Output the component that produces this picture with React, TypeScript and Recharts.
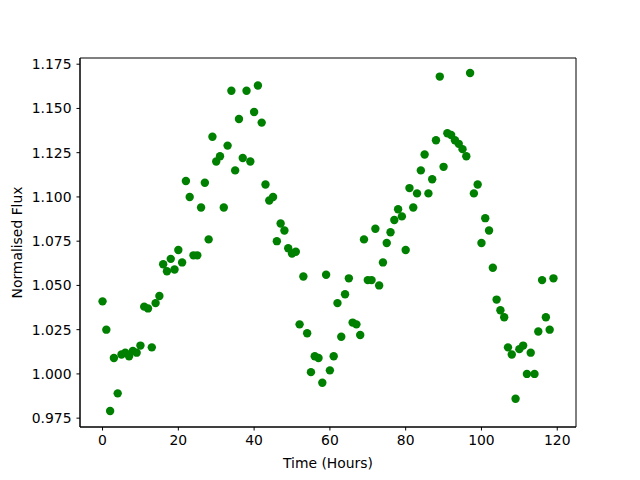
import React from 'react';
import { ScatterChart, Scatter, XAxis, YAxis, ReferenceArea } from 'recharts';

// flux readings, one per hour starting at t = 0
const FLUX = [
  1.041, 1.025, 0.979, 1.009, 0.989, 1.011, 1.012, 1.010, 1.013, 1.012,
  1.016, 1.038, 1.037, 1.015, 1.040, 1.044, 1.062, 1.058, 1.065, 1.059,
  1.070, 1.063, 1.109, 1.100, 1.067, 1.067, 1.094, 1.108, 1.076, 1.134,
  1.120, 1.123, 1.094, 1.129, 1.160, 1.115, 1.144, 1.122, 1.160, 1.120,
  1.148, 1.163, 1.142, 1.107, 1.098, 1.100, 1.075, 1.085, 1.081, 1.071,
  1.068, 1.069, 1.028, 1.055, 1.023, 1.001, 1.010, 1.009, 0.995, 1.056,
  1.002, 1.010, 1.040, 1.021, 1.045, 1.054, 1.029, 1.028, 1.022, 1.076,
  1.053, 1.053, 1.082, 1.050, 1.063, 1.074, 1.080, 1.087, 1.093, 1.089,
  1.070, 1.105, 1.094, 1.102, 1.115, 1.124, 1.102, 1.110, 1.132, 1.168,
  1.117, 1.136, 1.135, 1.132, 1.130, 1.127, 1.123, 1.170, 1.102, 1.107,
  1.074, 1.088, 1.081, 1.060, 1.042, 1.036, 1.032, 1.015, 1.011, 0.986,
  1.014, 1.016, 1.000, 1.012, 1.000, 1.024, 1.053, 1.032, 1.025, 1.054,
];

const X_TICKS = [0, 20, 40, 60, 80, 100, 120];
const Y_TICKS = [0.975, 1.0, 1.025, 1.05, 1.075, 1.1, 1.125, 1.15, 1.175];
const X_DOMAIN: [number, number] = [-5.95, 124.95];
const Y_DOMAIN: [number, number] = [0.9700, 1.1785];

const data = FLUX.map((flux, hour) => ({ hour, flux }));

const font = 'DejaVu Sans';
const tickStyle = { fill: '#000', fontSize: 13.9, fontFamily: font };

const Dot = (props: any) => <circle cx={props.cx} cy={props.cy} r={4.2} fill="#008000" />;

const XLabel = (props: any) => {
  const { viewBox } = props;
  return (
    <text x={viewBox.x + viewBox.width / 2} y={468} textAnchor="middle" fill="#000" fontSize={13.9} fontFamily={font}>
      Time (Hours)
    </text>
  );
};

const YLabel = (props: any) => {
  const { viewBox } = props;
  const cx = 17;
  const cy = viewBox.y + viewBox.height / 2;
  return (
    <text x={cx} y={cy} transform={`rotate(-90 ${cx} ${cy})`} textAnchor="middle" dominantBaseline="central"
      fill="#000" fontSize={13.9} fontFamily={font}>
      Normalised Flux
    </text>
  );
};

export default function App() {
  return (
    <div style={{ position: 'absolute', left: 0, top: 0, background: '#fff' }}>
      <ScatterChart width={640} height={480} margin={{ top: 58, right: 64, bottom: 0, left: 0 }}>
        <XAxis
          dataKey="hour"
          type="number"
          domain={X_DOMAIN}
          ticks={X_TICKS}
          allowDataOverflow
          height={53}
          tickSize={3.5}
          tickMargin={5}
          tick={tickStyle}
          axisLine={{ stroke: '#000', strokeWidth: 1 }}
          tickLine={{ stroke: '#000', strokeWidth: 1 }}
          label={<XLabel />}
        />
        <YAxis
          dataKey="flux"
          type="number"
          domain={Y_DOMAIN}
          ticks={Y_TICKS}
          allowDataOverflow
          width={80}
          tickSize={3.5}
          tickMargin={5}
          tick={tickStyle}
          tickFormatter={(v: number) => v.toFixed(3)}
          axisLine={{ stroke: '#000', strokeWidth: 1 }}
          tickLine={{ stroke: '#000', strokeWidth: 1 }}
          label={<YLabel />}
        />
        <ReferenceArea
          x1={X_DOMAIN[0]}
          x2={X_DOMAIN[1]}
          y1={Y_DOMAIN[0]}
          y2={Y_DOMAIN[1]}
          fill="none"
          stroke="#000"
          strokeWidth={1}
          ifOverflow="visible"
        />
        <Scatter data={data} fill="#008000" shape={<Dot />} isAnimationActive={false} />
      </ScatterChart>
    </div>
  );
}
